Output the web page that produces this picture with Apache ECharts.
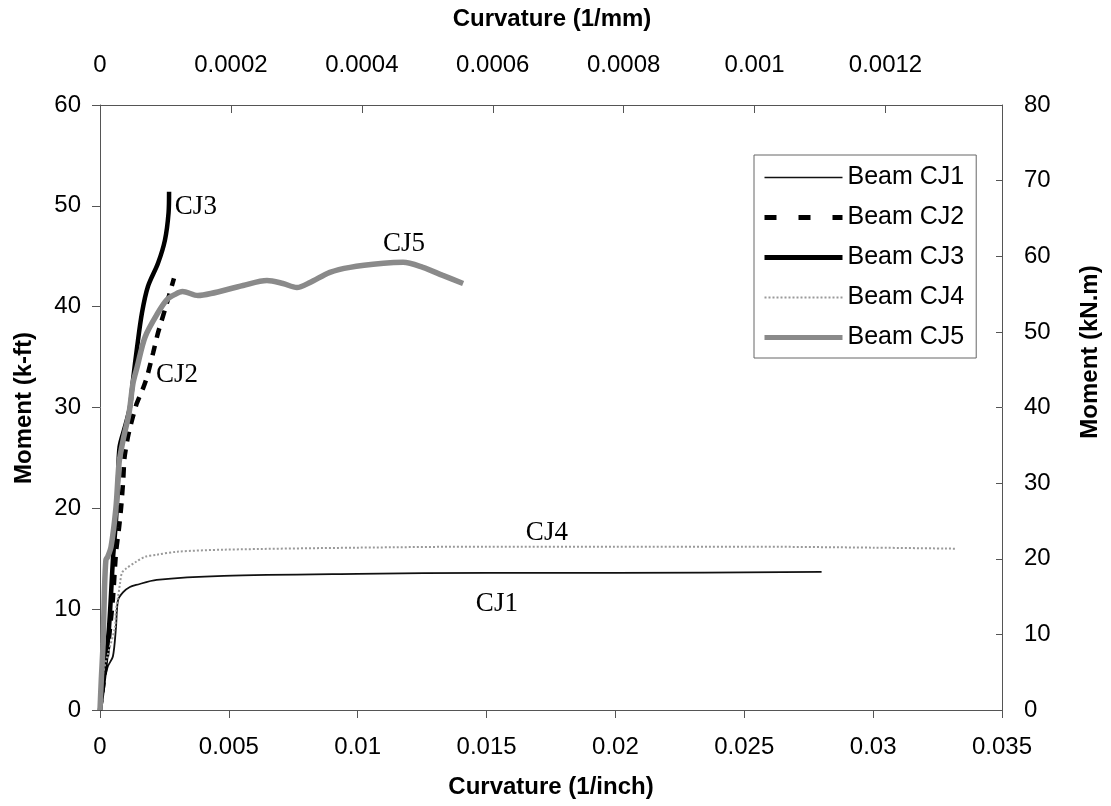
<!DOCTYPE html>
<html>
<head>
<meta charset="utf-8">
<script src="https://cdn.jsdelivr.net/npm/echarts@6/dist/echarts.min.js"></script>
<style>
html,body{margin:0;padding:0;background:#fff;}
#chart{width:1111px;height:806px;}
</style>
</head>
<body>
<div id="chart"></div>
<script>
// Curvature (1/inch) vs Moment (k-ft)
var cj1 = [[0,0],[0.0001,2.3],[0.0003,4.3],[0.0005,5.3],[0.00062,8.2],[0.0007,10.9],[0.0009,11.7],[0.00116,12.2],[0.0014,12.4],[0.0022,12.9],[0.0048,13.3],[0.01,13.5],[0.0151,13.6],[0.02,13.6],[0.028,13.7]];
var cj2 = [[0,0],[0.0003,6],[0.0005,11],[0.00062,15.6],[0.00074,18.1],[0.00082,20.1],[0.0009,22.8],[0.00095,25],[0.0011,27.3],[0.0014,30.2],[0.00167,31.9],[0.00182,33.0],[0.00206,35.4],[0.00225,37.4],[0.00252,39.7],[0.00287,42.8]];
var cj3 = [[0,0],[0.0001,2],[0.00023,5.0],[0.00035,8.2],[0.00043,11.6],[0.0005,14.9],[0.00054,16.2],[0.00062,18.8],[0.0007,22.8],[0.00076,26.1],[0.00097,28.1],[0.00116,30.0],[0.00128,32.7],[0.00144,36.0],[0.00163,39.4],[0.00186,42.0],[0.00225,44.3],[0.00252,46.6],[0.00266,49.3],[0.00268,51.4]];
var cj4 = [[0,0],[0.0001,3.3],[0.0003,5.5],[0.00058,8.2],[0.00062,9.9],[0.0007,11.2],[0.00078,12.6],[0.00085,13.6],[0.001,14.0],[0.0014,14.7],[0.00175,15.2],[0.0022,15.4],[0.003,15.7],[0.0048,15.9],[0.01,16.1],[0.015,16.2],[0.02,16.2],[0.025,16.2],[0.03,16.1],[0.0332,16.0]];
var cj5 = [[0,0],[0.00005,3],[0.00012,6.6],[0.00017,11.6],[0.00023,14.9],[0.0003,15.2],[0.00043,16.2],[0.00062,20.1],[0.00074,24.5],[0.0009,26.8],[0.00113,29.5],[0.00128,32.4],[0.00144,34.0],[0.00175,37.0],[0.00225,39.4],[0.0026,40.7],[0.0029,41.2],[0.0032,41.5],[0.0038,41.1],[0.0043,41.3],[0.00555,42.1],[0.00648,42.6],[0.0071,42.3],[0.00764,41.9],[0.00815,42.4],[0.00892,43.4],[0.0097,43.9],[0.011,44.3],[0.01176,44.4],[0.01253,43.9],[0.0133,43.1],[0.01409,42.3]];
var seriesNames = ['Beam CJ1','Beam CJ2','Beam CJ3','Beam CJ4','Beam CJ5'];
var annotations = [['CJ3',0.00372,49.9],['CJ2',0.00299,33.2],['CJ5',0.0118,46.2],['CJ4',0.01734,17.55],['CJ1',0.0154,10.5]];
var xMin = 0, xMax = 0.035, xStep = 0.005;
var yMin = 0, yMax = 60, yStep = 10;
var y2Max = 80, y2Step = 10;
var x2Max = 0.035 / 25.4, x2Step = 0.0002, x2LastLabel = 0.0012;

var SANS = '"Liberation Sans", Arial, sans-serif';
var SERIF = '"Liberation Serif", "Times New Roman", serif';
var chart = echarts.init(document.getElementById('chart'), null, {renderer:'canvas'});
function fmt(v, d){ return String(parseFloat(v.toFixed(d))); }
var axisLine = {show:true, onZero:false, lineStyle:{color:'#555', width:1}};
var styles = [
  {color:'#111', width:1.8, type:'solid'},
  {color:'#000', width:4.5, type:[10,8]},
  {color:'#000', width:4.5, type:'solid'},
  {color:'#9a9a9a', width:2, type:[2,2]},
  {color:'#8a8a8a', width:5.5, type:'solid'}
];
var legendStyles = [
  {color:'#111', width:1.5, type:'solid'},
  {color:'#000', width:5, type:[12,22]},
  {color:'#000', width:5, type:'solid'},
  {color:'#9a9a9a', width:2, type:[2,2]},
  {color:'#8a8a8a', width:5, type:'solid'}
];
var titleStyle = function(t){ return {text:t, font:'bold 24px '+SANS, fill:'#000', align:'center', verticalAlign:'middle', textAlign:'center', textVerticalAlign:'middle'}; };
var option = {
  animation:false,
  backgroundColor:'#fff',
  grid:{left:100, right:109, top:105, bottom:96, containLabel:false},
  legend:{
    orient:'vertical', left:754, top:155,
    data:seriesNames.map(function(n,i){ return {name:n, lineStyle:legendStyles[i], itemStyle:{opacity:0}}; }),
    itemWidth:78, itemHeight:14, itemGap:15,
    padding:[10,12,8,8],
    borderColor:'#666', borderWidth:1, backgroundColor:'#fff',
    itemStyle:{opacity:0},
    textStyle:{fontFamily:SANS, fontSize:25, color:'#000', lineHeight:24}
  },
  xAxis:[
    {type:'value', position:'bottom', min:xMin, max:xMax, interval:xStep,
     axisLine:axisLine, splitLine:{show:false},
     axisTick:{show:true, inside:false, length:8, lineStyle:{color:'#555'}},
     axisLabel:{margin:25, fontFamily:SANS, fontSize:24, color:'#000', formatter:function(v){return fmt(v,4);}}},
    {type:'value', position:'top', min:0, max:x2Max, interval:x2Step,
     axisLine:axisLine, splitLine:{show:false},
     axisTick:{show:true, inside:true, length:8, lineStyle:{color:'#555'}},
     axisLabel:{margin:28, fontFamily:SANS, fontSize:24, color:'#000', showMaxLabel:true,
       formatter:function(v){ if (v > x2LastLabel + 1e-9) return ''; return fmt(v,5);}}}
  ],
  yAxis:[
    {type:'value', position:'left', min:yMin, max:yMax, interval:yStep,
     axisLine:axisLine, splitLine:{show:false},
     axisTick:{show:true, inside:false, length:8, lineStyle:{color:'#555'}},
     axisLabel:{margin:19, fontFamily:SANS, fontSize:24, color:'#000'}},
    {type:'value', position:'right', min:0, max:y2Max, interval:y2Step,
     axisLine:axisLine, splitLine:{show:false},
     axisTick:{show:true, inside:true, length:6, lineStyle:{color:'#555'}},
     axisLabel:{margin:22, fontFamily:SANS, fontSize:24, color:'#000'}}
  ],
  series:seriesNames.map(function(n,i){
    var d = [cj1,cj2,cj3,cj4,cj5][i];
    return {name:n, type:'line', data:d, symbol:'none', smooth:(i===1?0.2:0.3),
      xAxisIndex:0, yAxisIndex:0,
      lineStyle:styles[i], itemStyle:{color:styles[i].color}};
  })
};
chart.setOption(option);

// titles and curve annotations
var graphics = [
  {type:'text', x:552, y:19, style:titleStyle('Curvature (1/mm)')},
  {type:'text', x:551, y:787, style:titleStyle('Curvature (1/inch)')},
  {type:'text', x:24, y:408, rotation:Math.PI/2, style:titleStyle('Moment (k-ft)')},
  {type:'text', x:1090, y:352, rotation:Math.PI/2, style:titleStyle('Moment (kN.m)')}
];
annotations.forEach(function(a){
  var p = chart.convertToPixel({xAxisIndex:0, yAxisIndex:0}, [a[1], a[2]]);
  graphics.push({type:'text', x:p[0], y:p[1], z:10,
    style:{text:a[0], font:'27px '+SERIF, fill:'#000', align:'center', verticalAlign:'middle', textAlign:'center', textVerticalAlign:'middle'}});
});
chart.setOption({graphic:graphics});
</script>
</body>
</html>
